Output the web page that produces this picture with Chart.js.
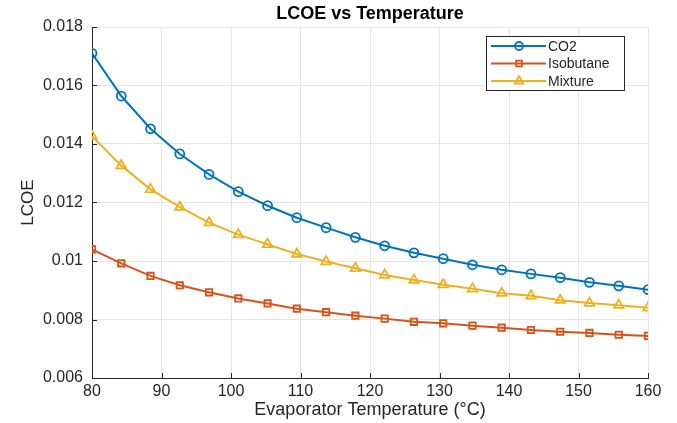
<!DOCTYPE html>
<html>
<head>
<meta charset="utf-8">
<script src="https://cdn.jsdelivr.net/npm/chart.js@4.4.1/dist/chart.umd.min.js"></script>
<style>
  html, body { margin: 0; padding: 0; background: #fff; }
  #wrap { width: 677px; height: 423px; }
</style>
</head>
<body>
<div id="wrap"><canvas id="chart1" width="677" height="423"></canvas></div>
<script>
// evaporator temperature (°C)
var temps = [80, 84.21, 88.42, 92.63, 96.84, 101.05, 105.26, 109.47, 113.68, 117.89,
             122.11, 126.32, 130.53, 134.74, 138.95, 143.16, 147.37, 151.58, 155.79, 160];

var co2 = [0.0171, 0.01564, 0.01452, 0.01366, 0.01296, 0.01237, 0.01189, 0.01148, 0.01114, 0.01081,
           0.01052, 0.01028, 0.01008, 0.00987, 0.0097, 0.00956, 0.00943, 0.00927, 0.00915, 0.00902];
var isobutane = [0.0104, 0.00992, 0.00949, 0.00917, 0.00893, 0.00872, 0.00855, 0.00837, 0.00825, 0.00813,
                 0.00803, 0.00792, 0.00787, 0.00779, 0.00772, 0.00764, 0.00758, 0.00754, 0.00748, 0.00744];
var mixture = [0.01427, 0.01326, 0.01245, 0.01184, 0.01131, 0.0109, 0.01057, 0.01024, 0.00998, 0.00975,
               0.00952, 0.00935, 0.00919, 0.00905, 0.0089, 0.00881, 0.00866, 0.00856, 0.00849, 0.0084];

var xTicks = [80, 90, 100, 110, 120, 130, 140, 150, 160];
var yTicks = [0.006, 0.008, 0.01, 0.012, 0.014, 0.016, 0.018];

var FONT = "'Liberation Sans', Arial, Helvetica, sans-serif";
var INK = '#262626';

function pairs(ys) {
    return ys.map(function(y, i) { return {x: temps[i], y: y}; });
}

function series(label, ys, color, style, radius) {
    return {
        label: label,
        data: pairs(ys),
        borderColor: color,
        backgroundColor: color,
        borderWidth: 2,
        pointStyle: style,
        pointRadius: radius,
        pointBorderWidth: 1.8,
        pointBackgroundColor: 'rgba(0,0,0,0)',
        pointBorderColor: color,
        tension: 0,
        fill: false
    };
}

// title centred over the axes, like matlab
var titlePlugin = {
    id: 'axTitle',
    afterDraw: function(chart) {
        var c = chart.ctx, a = chart.chartArea;
        c.save();
        c.fillStyle = '#000';
        c.font = 'bold 18px ' + FONT;
        c.textAlign = 'center';
        c.textBaseline = 'middle';
        c.fillText('LCOE vs Temperature', (a.left + a.right) / 2, 14);
        c.restore();
    }
};

// inward tick marks
var tickPlugin = {
    id: 'inTicks',
    afterDatasetsDraw: function(chart) {
        var c = chart.ctx, a = chart.chartArea;
        var xs = chart.scales.x, ys = chart.scales.y;
        c.save();
        c.strokeStyle = INK;
        c.lineWidth = 1;
        c.beginPath();
        xTicks.forEach(function(v) {
            var px = Math.round(xs.getPixelForValue(v)) + 0.5;
            c.moveTo(px, a.bottom);
            c.lineTo(px, a.bottom - 5);
        });
        yTicks.forEach(function(v) {
            var py = Math.round(ys.getPixelForValue(v)) + 0.5;
            c.moveTo(a.left, py);
            c.lineTo(a.left + 5, py);
        });
        c.stroke();
        c.restore();
    }
};

// legend box inside the axes, top right
var legendPlugin = {
    id: 'boxLegend',
    afterDraw: function(chart) {
        var c = chart.ctx, a = chart.chartArea;
        var w = 138, h = 54;
        var x0 = a.right - 24 - w, y0 = a.top + 9;
        c.save();
        c.fillStyle = '#fff';
        c.fillRect(x0, y0, w, h);
        c.strokeStyle = INK;
        c.lineWidth = 1;
        c.strokeRect(Math.round(x0) + 0.5, Math.round(y0) + 0.5, w, h);
        c.font = '14px ' + FONT;
        c.textBaseline = 'middle';
        chart.data.datasets.forEach(function(ds, i) {
            var yy = y0 + 10 + i * 17.5;
            c.strokeStyle = ds.borderColor;
            c.lineWidth = 2;
            c.beginPath();
            c.moveTo(x0 + 5, yy);
            c.lineTo(x0 + 60, yy);
            c.stroke();
            c.fillStyle = 'rgba(0,0,0,0)';
            c.lineWidth = ds.pointBorderWidth;
            Chart.helpers.drawPoint(c, {
                pointStyle: ds.pointStyle,
                radius: ds.pointRadius - 0.5,
                borderWidth: ds.pointBorderWidth
            }, x0 + 33, yy);
            c.fillStyle = INK;
            c.fillText(ds.label, x0 + 62, yy + 1);
        });
        c.restore();
    }
};

var ctx = document.getElementById('chart1').getContext('2d');
var chart = new Chart(ctx, {
    type: 'line',
    data: {
        datasets: [
            series('CO2', co2, '#0072BD', 'circle', 4.5),
            series('Isobutane', isobutane, '#D95319', 'rect', 4.5),
            series('Mixture', mixture, '#EDB120', 'triangle', 5.5)
        ]
    },
    options: {
        responsive: false,
        animation: false,
        layout: { padding: { top: 27, right: 29, left: 0, bottom: 0 } },
        plugins: {
            legend: { display: false },
            title: { display: false },
            tooltip: { enabled: false }
        },
        scales: {
            x: {
                type: 'linear',
                min: 80,
                max: 160,
                afterFit: function(s) { s.height = 45; },
                afterBuildTicks: function(s) { s.ticks = xTicks.map(function(v) { return {value: v}; }); },
                grid: { color: '#e4e4e4', drawTicks: false },
                border: { display: true, color: INK, width: 1 },
                ticks: { padding: 4, color: INK, font: { family: FONT, size: 16 } },
                title: {
                    display: true,
                    text: 'Evaporator Temperature (°C)',
                    color: INK,
                    font: { family: FONT, size: 18 },
                    padding: { top: 0, bottom: 2 }
                }
            },
            y: {
                min: 0.006,
                max: 0.018,
                afterFit: function(s) { s.width = 92; },
                afterBuildTicks: function(s) { s.ticks = yTicks.map(function(v) { return {value: v}; }); },
                grid: { color: '#e4e4e4', drawTicks: false },
                border: { display: true, color: INK, width: 1 },
                ticks: {
                    padding: 9,
                    color: INK,
                    font: { family: FONT, size: 16 },
                    callback: function(v) { return String(parseFloat(v.toFixed(3))); }
                },
                title: {
                    display: true,
                    text: 'LCOE',
                    color: INK,
                    font: { family: FONT, size: 17 },
                    padding: { top: 18, bottom: 0 }
                }
            }
        }
    },
    plugins: [tickPlugin, legendPlugin, titlePlugin]
});
</script>
</body>
</html>
